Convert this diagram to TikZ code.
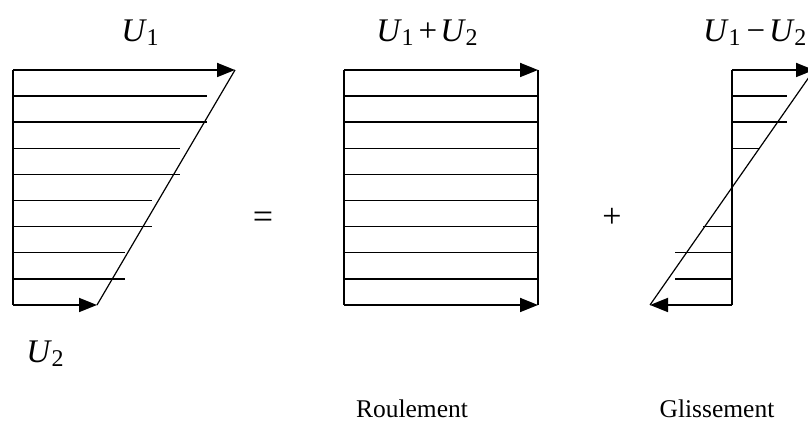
\documentclass[tikz,border=0pt]{standalone}
\usepackage{fontspec}
\setmainfont{Liberation Serif}
\usetikzlibrary{arrows.meta}
\newcommand{\Uvar}[1]{{\fontsize{33}{36}\selectfont\itshape U}\kern1.5pt\raisebox{-0.42em}{\fontsize{24}{26}\selectfont #1}}
\begin{document}
\begin{tikzpicture}[x=1pt,y=1pt,
  main/.style={line width=1.8pt},
  diag/.style={line width=1.2pt},
  hatch/.style={line width=1.5pt},
  vec/.style={line width=1.8pt,-{Triangle[length=18pt,width=14pt]}},
  lab/.style={inner sep=0pt},
  word/.style={inner sep=0pt,font=\fontsize{25.5}{30}\selectfont}]
\useasboundingbox (0,0) rectangle (808,427);
\clip (0,0) rectangle (808,427);
% ---- left profile ----
\coordinate (LT) at (13,357);
\coordinate (LB) at (13,122);
\coordinate (LTt) at (235,357);
\coordinate (LBt) at (97,122);
\draw[main] (LT) -- (LB);
\draw[vec] (LT) -- (LTt);
\draw[vec] (LB) -- (LBt);
\draw[diag] (LBt) -- (LTt);
\foreach \k/\e in {1/207,2/207,3/180,4/180,5/152,6/152,7/125,8/125}{
  \coordinate (l\k a) at (13,357-26.1*\k);
  \coordinate (l\k b) at (\e,357-26.1*\k);
  \draw[hatch] (l\k a) -- (l\k b);
}
% ---- middle profile ----
\coordinate (MT) at (344,357);
\coordinate (MB) at (344,122);
\coordinate (MTt) at (538,357);
\coordinate (MBt) at (538,122);
\draw[main] (MT) -- (MB);
\draw[diag] (MTt) -- (MBt);
\draw[vec] (MT) -- (MTt);
\draw[vec] (MB) -- (MBt);
\foreach \k in {1,...,8}{
  \coordinate (m\k a) at (344,357-26.1*\k);
  \coordinate (m\k b) at (538,357-26.1*\k);
  \draw[hatch] (m\k a) -- (m\k b);
}
% ---- right profile ----
\coordinate (RT) at (732,357);
\coordinate (RB) at (732,122);
\coordinate (RTt) at (814,357);
\coordinate (RBt) at (650,122);
\draw[main] (RT) -- (RB);
\draw[vec] (RT) -- (RTt);
\draw[vec] (RB) -- (RBt);
\draw[diag] (RBt) -- (RTt);
\foreach \k/\e in {1/787,2/787,3/760}{
  \coordinate (r\k a) at (732,357-26.1*\k);
  \coordinate (r\k b) at (\e,357-26.1*\k);
  \draw[hatch] (r\k a) -- (r\k b);
}
\foreach \k/\e in {6/703,7/675,8/675}{
  \coordinate (r\k a) at (732,357-26.1*\k);
  \coordinate (r\k b) at (\e,357-26.1*\k);
  \draw[hatch] (r\k a) -- (r\k b);
}
% ---- labels ----
\node[lab] (u1) at (140,394) {\Uvar{1}};
\node[lab] (u12) at (427,394) {\Uvar{1}\kern5pt{\fontsize{33}{36}\selectfont +}\kern3pt\Uvar{2}};
\node[lab,anchor=west] (u1m2) at (703,394) {\Uvar{1}\kern6pt{\fontsize{33}{36}\selectfont \textminus}\kern4pt\Uvar{2}};
\node[lab] (u2) at (45,73) {\Uvar{2}};
\node[lab] (eq) at (263,207) {\fontsize{36}{40}\selectfont =};
\node[lab] (pl) at (612,209) {\fontsize{34}{38}\selectfont +};
\node[word,anchor=base] (roul) at (412,9) {Roulement};
\node[word,anchor=base] (gliss) at (717,9) {Glissement};
\end{tikzpicture}
\end{document}
